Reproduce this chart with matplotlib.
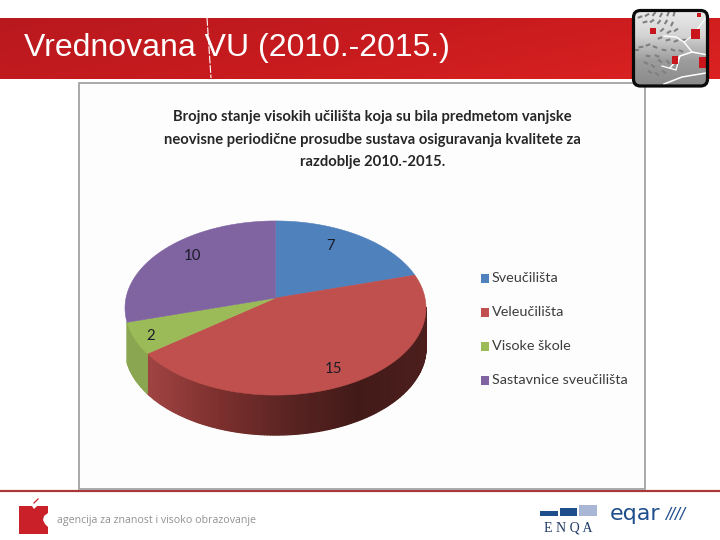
import numpy as np
import matplotlib
matplotlib.use('Agg')
import matplotlib.pyplot as plt
from matplotlib.colors import LinearSegmentedColormap
from matplotlib.patches import FancyBboxPatch, Rectangle

# podaci s grafikona
categories = ['Sveučilišta', 'Veleučilišta', 'Visoke škole', 'Sastavnice sveučilišta']
values = [7, 15, 2, 10]
colors = ['#4f81bd', '#c0504d', '#9bbb59', '#8064a2']

slide_title = 'Vrednovana VU (2010.-2015.)'
chart_title = ['Brojno stanje visokih učilišta koja su bila predmetom vanjske',
               'neovisne periodične prosudbe sustava osiguravanja kvalitete za',
               'razdoblje 2010.-2015.']
footer_text = 'agencija za znanost i visoko obrazovanje'

# geometrija 3D pite, u pikselima slike
cx, cy = 275.5, 298
rx, ry, k = 149.5, 85.9, 0.115
depth = 40


def project(angle):
    # kut u stupnjevima, od vrha u smjeru kazaljke na satu -> perspektiva
    u = np.sin(np.radians(angle))
    v = np.cos(np.radians(angle))
    w = 1 + k * v
    return cx + rx * u / w, cy - ry * v / w


fig = plt.figure(figsize=(7.2, 5.4), dpi=100)
ax = fig.add_axes([0, 0, 1, 1])
ax.axis('off')

# crveni pojas gore
band = np.linspace(0, 1, 256).reshape(1, -1) + np.linspace(0, 0.4, 60).reshape(-1, 1)
band_cmap = LinearSegmentedColormap.from_list('band', ['#b8191e', '#c81b1e', '#dc2222'])
ax.imshow(band, extent=(0, 720, 79, 18), cmap=band_cmap, aspect='auto', zorder=1, vmin=0, vmax=1.4)
ax.text(24, 48, slide_title, color='white', fontsize=23, family='Liberation Sans',
        va='center', ha='left', zorder=3)
ax.plot([207, 211], [18, 78], color='white', lw=0.8, ls=(0, (7, 1.5)), zorder=4)

# okvir grafikona
ax.add_patch(Rectangle((78.5, 83), 566.5, 406, fc='#fdfdfd', ec='#a9a9a9', lw=1.4, zorder=2))

# donja linija
ax.plot([0, 720], [491, 491], color='#a8383a', lw=1.6, zorder=1)

for i, line in enumerate(chart_title):
    ax.text(372.5, 117 + i * 22.7, line, fontsize=10.6, family='Lato', weight='bold',
            color='#262626', ha='center', va='center', zorder=5)

# rubovi kriski
edges = np.cumsum([0] + values) / sum(values) * 360

# bocna strana - samo prednji dio, tamnjenje s lijeva na desno
side_cmap = LinearSegmentedColormap.from_list('side', ['#a04442', '#7d302e', '#5a2422', '#421a18', '#4c1f1d'])
segs = np.linspace(96, edges[2], 140)
for s0, s1 in zip(segs[:-1], segs[1:]):
    x0, y0 = project(s0)
    x1, y1 = project(s1)
    col = side_cmap(np.clip(((x0 + x1) / 2 - 147) / 280, 0, 1))
    ax.fill([x0, x1, x1, x0], [y0, y1, y1 + depth, y0 + depth], fc=col, ec=col, lw=0.9, zorder=3)
segs = np.linspace(edges[2], edges[3], 20)
for s0, s1 in zip(segs[:-1], segs[1:]):
    x0, y0 = project(s0)
    x1, y1 = project(s1)
    ax.fill([x0, x1, x1, x0], [y0, y1, y1 + depth, y0 + depth], fc='#8aa650', ec='#8aa650', lw=0.9, zorder=3)

# gornja ploha
for start, end, col in zip(edges[:-1], edges[1:], colors):
    xs, ys = project(np.linspace(start, end, 120))
    ax.fill(np.r_[cx, xs], np.r_[cy, ys], color=col, lw=0.4, zorder=4)

# oznake vrijednosti
label_pos = [(331, 246), (334, 369), (151, 336), (193, 256)]
for val, (lx, ly) in zip(values, label_pos):
    ax.text(lx, ly, str(val), fontsize=10.8, family='Lato', color='#1c1c28',
            ha='center', va='center', zorder=6)

# legenda
for i, (name, col) in enumerate(zip(categories, colors)):
    y = 278 + i * 34
    ax.add_patch(Rectangle((480.5, y - 4.5), 8.5, 9, fc=col, ec='none', zorder=5))
    ax.text(492, y, name, fontsize=10.4, family='Lato', color='#3c3c3c',
            ha='left', va='center', zorder=5)

# ikona gore desno
icon_cmap = LinearSegmentedColormap.from_list('icon', ['#ececec', '#d4d4d4', '#9c9c9c', '#8a8a8a'])
grad = np.linspace(0, 1, 80).reshape(-1, 1)
im = ax.imshow(grad, extent=(633, 709, 87, 9), cmap=icon_cmap, aspect='auto', zorder=6)
frame = FancyBboxPatch((633.5, 10.5), 74, 75.5, boxstyle='round,pad=0,rounding_size=7',
                       fc='none', ec='#0a0a0a', lw=2.3, zorder=9)
ax.add_patch(frame)
im.set_clip_path(frame)
# listici
leaves = [(640, 17, 20), (647, 15, 30), (654, 14, 50), (661, 15, 60), (668, 14, 70), (674, 14, 75),
          (645, 22, 15), (652, 21, 35), (659, 22, 50), (666, 22, 60), (672, 24, 65),
          (662, 30, 40), (669, 32, 30), (676, 30, 35), (660, 38, 20), (668, 40, 15), (676, 41, 20), (684, 40, 10),
          (641, 47, 10), (648, 45, 20), (637, 50, 0), (655, 47, -20), (664, 50, -10), (673, 50, -20), (681, 51, -20),
          (646, 63, -25), (653, 66, -35), (660, 61, -40), (668, 62, -50), (650, 72, -30), (657, 74, -40),
          (648, 56, -10), (657, 56, -20), (664, 72, -35)]
for lx, ly, rot in leaves:
    dx, dy = 2.4 * np.cos(np.radians(rot)), 2.4 * np.sin(np.radians(rot))
    ax.plot([lx - dx, lx + dx], [ly + dy, ly - dy], color='#808080', lw=1.5,
            solid_capstyle='butt', zorder=7)
# grane
ax.plot([670, 680, 692, 708], [68, 56, 52, 55], color='white', lw=1.1, zorder=7)
ax.plot([692, 684, 676, 664], [52, 42, 37, 36], color='white', lw=1.0, zorder=7)
ax.plot([684, 692, 706], [42, 36, 18], color='white', lw=0.8, zorder=7)
ax.plot([680, 676, 662], [56, 70, 66], color='white', lw=0.9, zorder=7)
ax.plot([664, 682, 706], [84, 77, 73], color='white', lw=1.1, zorder=7)
# crveni kvadrati
for x, y, w, h in [(650, 28, 6, 6), (691, 29, 9, 10), (672, 56, 6, 8), (699, 57, 8, 11), (697, 13, 4, 4)]:
    ax.add_patch(Rectangle((x, y), w, h, fc='#c8161c', ec='none', zorder=8))

# logo agencije
logo_x = np.array([19, 32, 34, 37, 48, 48, 44, 43, 45, 48, 48, 19])
logo_y = np.array([506, 506, 509, 506, 506, 513, 516, 520, 524, 527, 534, 534])
ax.fill(logo_x, logo_y, color='#c9202a', lw=0, zorder=3)
ax.plot([34, 38], [503, 499], color='#c9202a', lw=0.9, zorder=3)
ax.text(57, 520, footer_text, fontsize=7.65, family='Open Sans', color='#929292',
        ha='left', va='center', zorder=3)

# ENQA i eqar
ax.add_patch(Rectangle((540, 511), 18, 5, fc='#1f4e8c', ec='none', zorder=3))
ax.add_patch(Rectangle((560, 508), 17, 8, fc='#1f4e8c', ec='none', zorder=3))
ax.add_patch(Rectangle((579, 505), 18, 11, fc='#a9b6d6', ec='none', zorder=3))
ax.text(568.5, 528, 'E N Q A', fontsize=10, family='Liberation Serif', color='#1f3a64',
        ha='center', va='center', zorder=3)
ax.text(610, 520, 'eqar', fontsize=16, family='DejaVu Sans', color='#1f4e8c',
        ha='left', va='baseline', zorder=3)
ax.text(665, 520, '////', fontsize=13, family='Liberation Sans', style='italic',
        color='#1f4e8c', ha='left', va='baseline', zorder=3)

ax.set_xlim(0, 720)
ax.set_ylim(540, 0)
fig.savefig('out.png', dpi=100, facecolor='white')
